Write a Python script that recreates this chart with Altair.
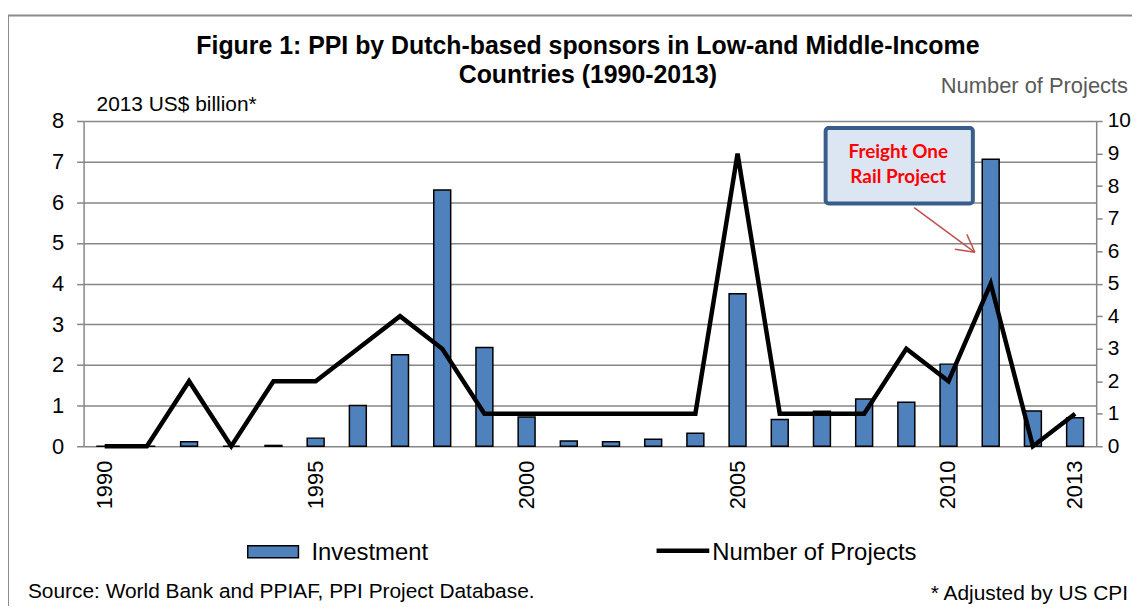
import altair as alt
import pandas as pd

# ---- data ----
years = list(range(1990, 2014))
investment = [0, 0, 0.11, 0, 0.02, 0.2, 1.0, 2.25, 6.3, 2.43, 0.72, 0.13, 0.11,
              0.17, 0.32, 3.75, 0.66, 0.86, 1.16, 1.08, 2.02, 7.06, 0.87, 0.7]
projects = [0, 0, 2, 0, 2, 2, 3, 4, 3, 1, 1, 1, 1, 1, 1, 9, 1, 1, 1, 3, 2, 5, 0, 1]
label_years = [1990, 1995, 2000, 2005, 2010, 2013]
left_ticks = list(range(0, 9))
right_ticks = list(range(0, 11))

title_lines = ["Figure 1: PPI by Dutch-based sponsors in Low-and Middle-Income",
               "Countries (1990-2013)"]

df = pd.DataFrame({"year": years, "investment": investment, "projects": projects})

FONT = "Liberation Sans"
GREY = "#868686"
W, H = 1018, 327

one = pd.DataFrame({"t": [""]})


def txt(s, x, y, size, align="left", bold=False, color="black", font=FONT):
    return alt.Chart(pd.DataFrame({"t": [s]})).mark_text(
        align=align, baseline="alphabetic", fontSize=size, font=font,
        fontWeight="bold" if bold else "normal", color=color
    ).encode(x=alt.value(x), y=alt.value(y), text="t:N")


def seg(x1, y1, x2, y2, color, width):
    return alt.Chart(one).mark_rule(color=color, strokeWidth=width).encode(
        x=alt.value(x1), y=alt.value(y1), x2=alt.value(x2), y2=alt.value(y2))


xenc = alt.X("year:O", scale=alt.Scale(paddingInner=0, paddingOuter=0),
             axis=alt.Axis(values=label_years, labelAngle=-90, labelFontSize=22,
                           labelFont=FONT, labelColor="black", domain=False,
                           ticks=False, labelPadding=14, title=None, grid=False))

bars = alt.Chart(df).mark_bar(size=17, color="#4f81bd", stroke="black",
                              strokeWidth=1.5).encode(
    x=xenc,
    y=alt.Y("investment:Q", scale=alt.Scale(domain=[0, 8], nice=False),
            axis=alt.Axis(values=left_ticks, orient="left", title=None,
                          labelFontSize=22, labelFont=FONT, labelColor="black",
                          domainColor=GREY, domainWidth=1.5, tickColor=GREY,
                          tickWidth=1.5, tickSize=7, labelPadding=13,
                          grid=True, gridColor=GREY, gridWidth=1.5)),
)

line = alt.Chart(df).mark_line(color="black", strokeWidth=4.5,
                               strokeJoin="miter").encode(
    x="year:O",
    y=alt.Y("projects:Q", scale=alt.Scale(domain=[0, 10], nice=False),
            axis=alt.Axis(values=right_ticks, orient="right", title=None,
                          labelFontSize=21, labelFont=FONT, labelColor="black",
                          domainColor=GREY, domainWidth=1.5, tickColor=GREY,
                          tickWidth=1.5, tickSize=6, labelPadding=5, grid=False)),
)

frame = alt.Chart(one).mark_rect(fillOpacity=0, stroke="#8c8c8c",
                                 strokeWidth=2).encode(
    x=alt.value(-76), y=alt.value(-106), x2=alt.value(1070), y2=alt.value(510))

# annotation box
box = alt.Chart(one).mark_rect(fill="#dce6f2", stroke="#385d8a", strokeWidth=4,
                               cornerRadius=3).encode(
    x=alt.value(746), y=alt.value(7), x2=alt.value(894), y2=alt.value(83))

legend_bar = alt.Chart(one).mark_rect(fill="#4f81bd", stroke="black",
                                      strokeWidth=1.5).encode(
    x=alt.value(165), y=alt.value(427), x2=alt.value(216), y2=alt.value(439))

layers = [
    frame,
    bars,
    line,
    box,
    txt("Freight One", 819, 37, 19, align="center", bold=True, color="#ff0000", font="Lato"),
    txt("Rail Project", 819, 62, 19, align="center", bold=True, color="#ff0000", font="Lato"),
    seg(835, 87, 896, 132, "#c0504d", 1.5),
    seg(896, 132, 888, 114, "#c0504d", 1.5),
    seg(896, 132, 876, 129, "#c0504d", 1.5),
    txt(title_lines[0], 507, -67, 25, align="center", bold=True),
    txt(title_lines[1], 507, -38, 25, align="center", bold=True),
    txt("2013 US$ billion*", 13, -10, 21),
    txt("Number  of Projects", 1050, -28, 22, align="right", color="#595959"),
    legend_bar,
    txt("Investment", 229, 441, 24),
    seg(576, 432, 629, 432, "black", 4.5),
    txt("Number of Projects", 632, 441, 24),
    txt("Source:  World Bank and PPIAF, PPI Project Database.", -56, 480, 21),
    txt("* Adjusted by US CPI", 1050, 482, 21, align="right"),
]

chart = alt.layer(*layers).resolve_scale(y="independent").properties(
    width=W, height=H,
    autosize=alt.AutoSizeParams(type="none"),
    padding={"left": 76, "top": 112, "right": 36, "bottom": 159},
    background="white",
).configure_view(stroke=None)

chart.save("out.html", embed_options={"renderer": "svg", "actions": False})
